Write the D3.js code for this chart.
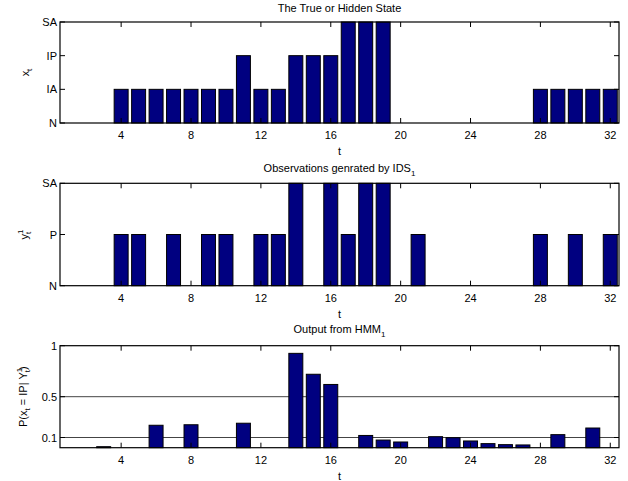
<!DOCTYPE html>
<html>
<head>
<meta charset="utf-8">
<script src="https://cdn.jsdelivr.net/npm/d3@7"></script>
<style>
  body { margin: 0; background: #fff; }
  svg text { font-family: "Liberation Sans", Arial, Helvetica, sans-serif; }
</style>
</head>
<body>
<div id="vis"></div>
<script>
// idopontok (t = 1..32)
const timeSteps = [1,2,3,4,5,6,7,8,9,10,11,12,13,14,15,16,17,18,19,20,21,22,23,24,25,26,27,28,29,30,31,32];
const xTicks = [4, 8, 12, 16, 20, 24, 28, 32];

// rejtett allapot: 0=N, 1=IA, 2=IP, 3=SA
const hiddenState = [0,0,0,1,1,1,1,1,1,1,2,1,1,2,2,2,3,3,3,0,0,0,0,0,0,0,0,1,1,1,1,1];
const hiddenLabels = ['N', 'IA', 'IP', 'SA'];

// megfigyelesek: 0=N, 1=P, 2=SA
const observations = [0,0,0,1,1,0,1,0,1,1,0,1,1,2,0,2,1,2,2,0,1,0,0,0,0,0,0,1,0,1,0,1];
const obsLabels = ['N', 'P', 'SA'];

// HMM kimenet: P(x_t = IP | Y)
const probIP = [0,0,0.01,0,0,0.22,0,0.225,0,0,0.24,0,0,0.925,0.72,0.62,0,0.12,0.075,0.056,0,0.108,0.098,0.066,0.04,0.03,0.027,0,0.128,0,0.193,0];
const probTicks = [0.1, 0.5, 1];
const probLines = [0.1, 0.5];

const W = 628, H = 481;
const left = 60, right = 619;
const barColor = '#000080';

const svg = d3.select('#vis').append('svg')
  .attr('width', W)
  .attr('height', H);

const x = d3.scaleLinear().domain([0.5, 32.5]).range([left, right]);
const barW = (x(1) - x(0)) * 0.8;

// egy panel kirajzolasa
function drawPanel(cfg) {
  const y = d3.scaleLinear().domain(cfg.yDomain).range([cfg.bottom, cfg.top]);
  const g = svg.append('g');

  // vizszintes referencia vonalak
  (cfg.hLines || []).forEach(v => {
    g.append('line')
      .attr('x1', left).attr('x2', right)
      .attr('y1', y(v)).attr('y2', y(v))
      .attr('stroke', '#444')
      .attr('stroke-width', 1);
  });

  // oszlopok
  g.selectAll('rect.bar')
    .data(cfg.values)
    .enter()
    .append('rect')
    .attr('class', 'bar')
    .attr('x', (d, i) => x(timeSteps[i]) - barW / 2)
    .attr('y', d => y(d))
    .attr('width', barW)
    .attr('height', d => y(cfg.yDomain[0]) - y(d))
    .attr('fill', barColor)
    .attr('stroke', '#000')
    .attr('stroke-width', 1);

  // keret
  g.append('rect')
    .attr('x', left).attr('y', cfg.top)
    .attr('width', right - left).attr('height', cfg.bottom - cfg.top)
    .attr('fill', 'none')
    .attr('stroke', '#000')
    .attr('stroke-width', 1.2);

  // x tickek (befele, also es felso)
  const tickLen = 5;
  xTicks.forEach(t => {
    g.append('line')
      .attr('x1', x(t)).attr('x2', x(t))
      .attr('y1', cfg.bottom).attr('y2', cfg.bottom - tickLen)
      .attr('stroke', '#000');
    g.append('line')
      .attr('x1', x(t)).attr('x2', x(t))
      .attr('y1', cfg.top).attr('y2', cfg.top + tickLen)
      .attr('stroke', '#000');
    g.append('text')
      .attr('x', x(t))
      .attr('y', cfg.bottom + 16)
      .attr('text-anchor', 'middle')
      .attr('font-size', '11px')
      .text(t);
  });

  // y tickek
  cfg.yTicks.forEach((v, i) => {
    g.append('line')
      .attr('x1', left).attr('x2', left + tickLen)
      .attr('y1', y(v)).attr('y2', y(v))
      .attr('stroke', '#000');
    g.append('line')
      .attr('x1', right).attr('x2', right - tickLen)
      .attr('y1', y(v)).attr('y2', y(v))
      .attr('stroke', '#000');
    g.append('text')
      .attr('x', left - 3)
      .attr('y', y(v) + 4)
      .attr('text-anchor', 'end')
      .attr('font-size', '11px')
      .text(cfg.yTickLabels[i]);
  });

  // x felirat
  g.append('text')
    .attr('x', (left + right) / 2)
    .attr('y', cfg.bottom + 32)
    .attr('text-anchor', 'middle')
    .attr('font-size', '11px')
    .text('t');

  // cim
  const title = g.append('text')
    .attr('x', (left + right) / 2)
    .attr('y', cfg.titleY)
    .attr('text-anchor', 'middle')
    .attr('font-size', '11px');
  title.append('tspan').text(cfg.title);
  if (cfg.titleSub) {
    title.append('tspan').attr('dy', 4).attr('font-size', '8px').text(cfg.titleSub);
  }

  // y felirat
  const yl = g.append('text')
    .attr('transform', 'translate(' + cfg.yLabelX + ',' + ((cfg.top + cfg.bottom) / 2) + ') rotate(-90)')
    .attr('text-anchor', 'middle')
    .attr('font-size', '11px');
  cfg.yLabel(yl);
}

drawPanel({
  top: 22, bottom: 123,
  yDomain: [0, 3],
  values: hiddenState,
  yTicks: [0, 1, 2, 3],
  yTickLabels: hiddenLabels,
  title: 'The True or Hidden State',
  titleY: 12,
  yLabelX: 29,
  yLabel: t => {
    t.append('tspan').text('x');
    t.append('tspan').attr('dy', 3).attr('font-size', '8px').text('t');
  }
});

drawPanel({
  top: 183.3, bottom: 285.7,
  yDomain: [0, 2],
  values: observations,
  yTicks: [0, 1, 2],
  yTickLabels: obsLabels,
  title: 'Observations genrated by IDS',
  titleSub: '1',
  titleY: 172,
  yLabelX: 28,
  yLabel: t => {
    t.append('tspan').text('y');
    t.append('tspan').attr('dy', -5).attr('font-size', '8px').text('1');
    t.append('tspan').attr('dx', -4.5).attr('dy', 8).attr('font-size', '8px').text('t');
  }
});

drawPanel({
  top: 345.7, bottom: 447.7,
  yDomain: [0, 1],
  values: probIP,
  yTicks: probTicks,
  yTickLabels: probTicks.map(String),
  hLines: probLines,
  title: 'Output from HMM',
  titleSub: '1',
  titleY: 333,
  yLabelX: 27,
  yLabel: t => {
    t.append('tspan').text('P(x');
    t.append('tspan').attr('dy', 3).attr('font-size', '8px').text('t');
    t.append('tspan').attr('dy', -3).text(' = IP| Y');
    t.append('tspan').attr('dy', -5).attr('font-size', '8px').text('1');
    t.append('tspan').attr('dx', -4.5).attr('dy', 8).attr('font-size', '8px').text('t');
    t.append('tspan').attr('dy', -3).text(')');
  }
});
</script>
</body>
</html>
